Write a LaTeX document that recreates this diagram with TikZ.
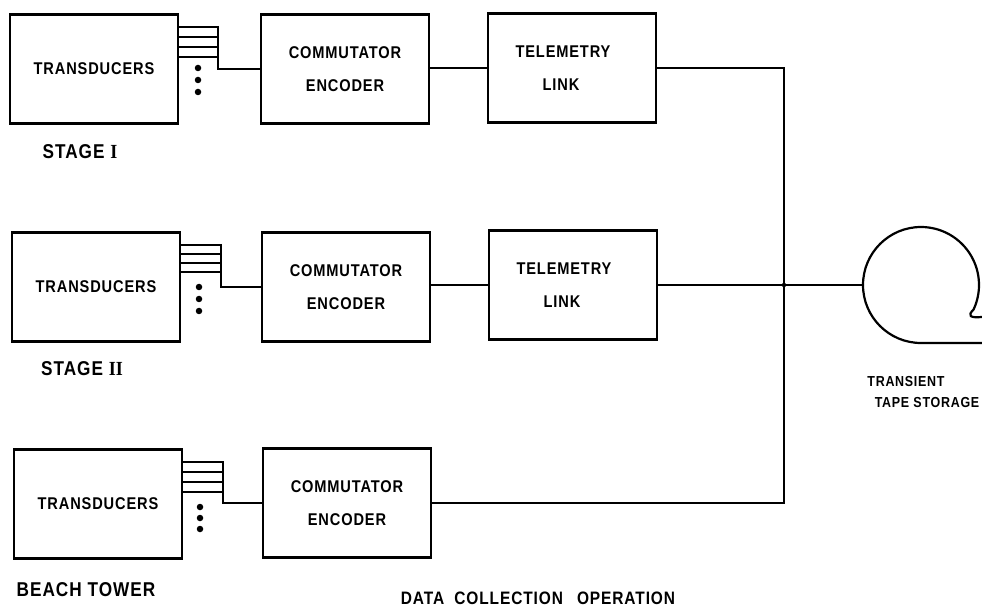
\documentclass[tikz,border=0pt]{standalone}
\usepackage{fontspec}
\setmainfont{Liberation Sans}
\newfontfamily\dgsans[LetterSpace=5,FakeStretch=0.86]{Liberation Sans}
\newfontfamily\dgserif[FakeStretch=0.9]{Liberation Serif}
\newcommand\dgbox{\fontsize{17}{19}\selectfont\dgsans\bfseries}
\newcommand\dglbl{\fontsize{20}{22}\selectfont\dgsans\bfseries}
\newcommand\dgsmall{\fontsize{14.5}{16}\selectfont\dgsans\bfseries}
\newcommand\dgnum[1]{{\dgserif\bfseries #1}}
\begin{document}
\begin{tikzpicture}[x=1pt,y=-1pt,
  box/.style={draw, line width=2.6pt, minimum width=168pt, minimum height=109pt,
              inner sep=0pt, outer sep=0pt, align=center, font=\dgbox},
  wire/.style={line width=2.2pt},
  lbl/.style={inner sep=0pt, font=\dglbl},
  dotm/.style={fill, circle, inner sep=0pt, minimum size=6.5pt}]
\useasboundingbox (0,0) rectangle (982,609);

% boxes
\node[box] (t1) at (94,69)   {TRANSDUCERS};
\node[box] (c1) at (345,69)  {COMMUTATOR\\[14pt]ENCODER};
\node[box] (l1) at (572,68)  {TELEMETRY\hspace*{18pt}\\[14pt]LINK\hspace*{22pt}};
\node[box] (t2) at (96,287)  {TRANSDUCERS};
\node[box] (c2) at (346,287) {COMMUTATOR\\[14pt]ENCODER};
\node[box] (l2) at (573,285) {TELEMETRY\hspace*{18pt}\\[14pt]LINK\hspace*{22pt}};
\node[box] (t3) at (98,504)  {TRANSDUCERS};
\node[box] (c3) at (347,503) {COMMUTATOR\\[14pt]ENCODER};

% bus lines from transducers
\foreach \y in {27,37,47,57} \draw[wire] (t1.east |- 0,\y) -- (218,\y);
\draw[wire] (218,26) -- (218,69) -- (c1.west);
\foreach \y in {245,254,263,272} \draw[wire] (t2.east |- 0,\y) -- (221,\y);
\draw[wire] (221,244) -- (221,287) -- (c2.west);
\foreach \y in {462,472,482,492} \draw[wire] (t3.east |- 0,\y) -- (223,\y);
\draw[wire] (223,461) -- (223,503) -- (c3.west);

% dots
\foreach \y in {68,80,92} \node[dotm] at (198,\y) {};
\foreach \y in {287,299,311} \node[dotm] at (199,\y) {};
\foreach \y in {507,518,529} \node[dotm] at (200,\y) {};

% connectors
\draw[wire] (c1.east |- l1.west) -- (l1.west);
\draw[wire] (c2.east |- l2.west) -- (l2.west);
\coordinate (j1) at (784,68);
\coordinate (j3) at (784,503);
\coordinate (jr) at (863,285);
\draw[wire] (l1.east) -- (j1) -- (j3) -- (c3.east);
\draw[wire] (l2.east) -- (jr);
\fill (784,285) circle (2.2pt);

% tape reel
\draw[wire, line cap=round] (jr) arc[start angle=180, end angle=385, radius=58]
   .. controls (967,316) and (970,318) .. (982,317);
\draw[wire] (jr) arc[start angle=180, end angle=90, radius=58] -- (982,343);

% labels
\node[lbl] (s1) at (80,152) {STAGE \dgnum{I}};
\node[lbl] (s2) at (82,369) {STAGE \dgnum{II}};
\node[lbl] (s3) at (86,590) {BEACH TOWER};
\node[lbl, font=\fontsize{18}{20}\selectfont\dgsans\bfseries] (dc) at (538,598)
   {DATA\hspace{10pt}COLLECTION\hspace{14pt}OPERATION};
\node[inner sep=0pt, font=\dgsmall] (ts1) at (906,382) {TRANSIENT};
\node[inner sep=0pt, font=\dgsmall] (ts2) at (927,403) {TAPE STORAGE};
\end{tikzpicture}
\end{document}
